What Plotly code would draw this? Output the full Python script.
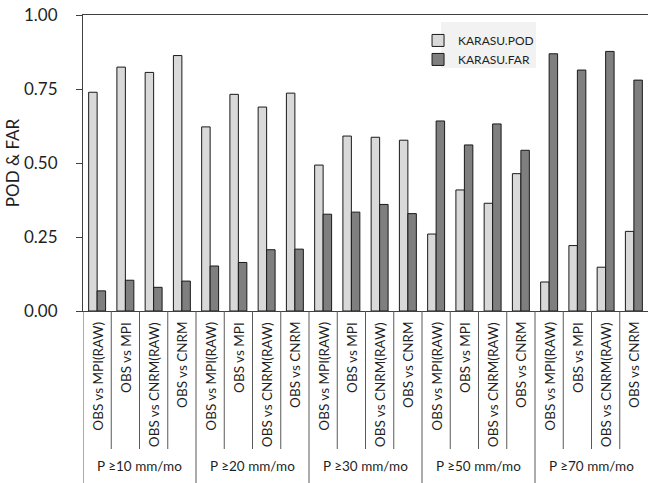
import plotly.graph_objects as go

groups = ["P ≥10 mm/mo", "P ≥20 mm/mo", "P ≥30 mm/mo", "P ≥50 mm/mo", "P ≥70 mm/mo"]
comparisons = ["OBS vs MPI(RAW)", "OBS vs MPI", "OBS vs CNRM(RAW)", "OBS vs CNRM"]

pod = [0.739, 0.824, 0.806, 0.863,
       0.622, 0.732, 0.689, 0.736,
       0.493, 0.591, 0.587, 0.577,
       0.260, 0.409, 0.364, 0.464,
       0.098, 0.221, 0.148, 0.269]
far = [0.068, 0.104, 0.080, 0.101,
       0.152, 0.164, 0.207, 0.209,
       0.327, 0.334, 0.360, 0.329,
       0.642, 0.561, 0.632, 0.543,
       0.869, 0.814, 0.877, 0.780]

series_names = ["KARASU.POD", "KARASU.FAR"]
yticks = [0, 0.25, 0.5, 0.75, 1.0]

n_cmp = len(comparisons)
xs = list(range(len(groups) * n_cmp))
FONT = "Lato, 'Open Sans', sans-serif"
TXT = "#1f1f1f"

fig = go.Figure()
fig.add_trace(go.Bar(x=xs, y=pod, name=series_names[0],
                     marker=dict(color="#d9d9d9", line=dict(color="#1a1a1a", width=1))))
fig.add_trace(go.Bar(x=xs, y=far, name=series_names[1],
                     marker=dict(color="#7f7f7f", line=dict(color="#1a1a1a", width=1))))

annotations = []
shapes = []
for gi, g in enumerate(groups):
    for ci, c in enumerate(comparisons):
        i = gi * n_cmp + ci
        annotations.append(dict(x=i, y=0, xref="x", yref="paper", text=c, textangle=-90,
                                showarrow=False, xanchor="center", yanchor="top", yshift=-9,
                                font=dict(family=FONT, size=13.5, color=TXT)))
        full = ci == 0
        shapes.append(dict(type="line", xref="x", yref="paper", ysizemode="pixel", yanchor=0,
                           x0=i - 0.5, x1=i - 0.5, y0=0, y1=-(172 if full else 138),
                           line=dict(color="#595959", width=1)))
    annotations.append(dict(x=gi * n_cmp + (n_cmp - 1) / 2, y=0, xref="x", yref="paper",
                            text=g, showarrow=False, xanchor="center", yanchor="middle",
                            yshift=-155, font=dict(family=FONT, size=13.5, color=TXT)))

# legend background panel
shapes.append(dict(type="rect", xref="paper", yref="paper", x0=0.6336, x1=0.8018,
                   y0=0.821, y1=0.976, fillcolor="#f2f2f2", line=dict(width=0), layer="below"))

fig.update_layout(
    width=648, height=483,
    margin=dict(l=83, r=0, t=15, b=172),
    paper_bgcolor="white", plot_bgcolor="white",
    barmode="group", bargap=0.4, bargroupgap=0,
    font=dict(family=FONT, color=TXT),
    showlegend=True,
    legend=dict(x=0.593, y=0.963, xanchor="left", yanchor="top", bgcolor="rgba(0,0,0,0)",
                font=dict(family=FONT, size=12, color=TXT), borderwidth=0,
                itemwidth=30),
    xaxis=dict(range=[-0.5, len(xs) - 0.5], showticklabels=False, ticks="",
               showgrid=False, zeroline=False, showline=True, mirror=True,
               linecolor="#404040", linewidth=1),
    yaxis=dict(range=[0, 1], tickvals=yticks, tickformat=".2f", ticks="outside", ticklen=6,
               tickcolor="#404040", showgrid=False, zeroline=False, showline=True,
               linecolor="#404040", linewidth=1, ticklabelstandoff=15,
               tickfont=dict(family=FONT, size=17, color=TXT),
               title=dict(text="POD & FAR", font=dict(family=FONT, size=17, color=TXT), standoff=0)),
    annotations=annotations, shapes=shapes,
)

fig.write_html("out.html", config={"displayModeBar": False},
               post_script="document.body.style.margin='0px';")
